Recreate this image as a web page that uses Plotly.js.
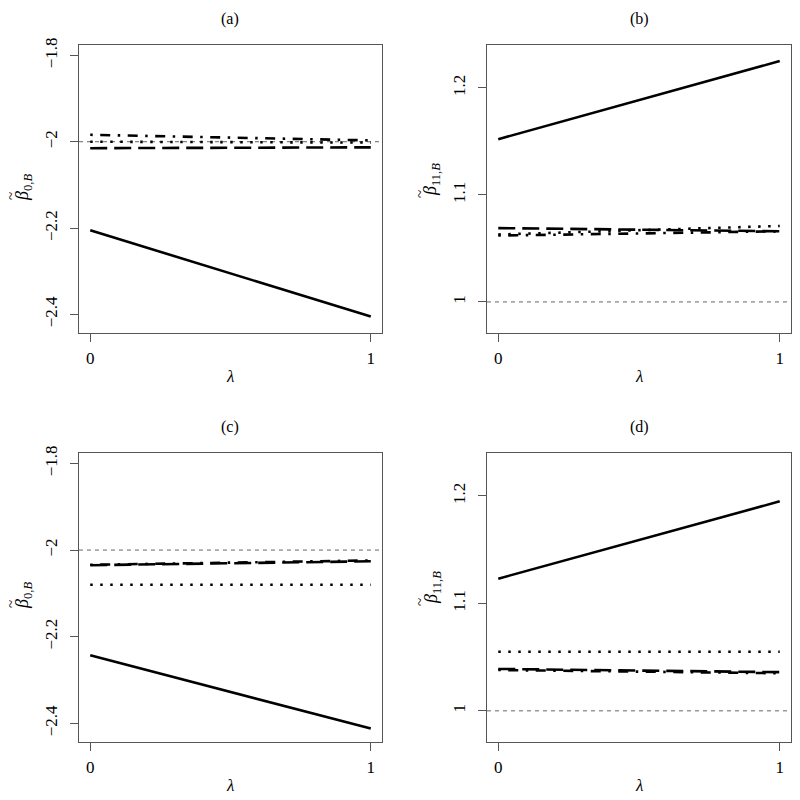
<!DOCTYPE html>
<html>
<head>
<meta charset="utf-8">
<script src="https://cdn.plot.ly/plotly-3.0.1.min.js"></script>
<style>
  html, body { margin: 0; padding: 0; background: #fff; }
  #plot { width: 800px; height: 800px; }
</style>
</head>
<body>
<div id="plot"></div>
<script>
// lambda grid and tick values
const LAMBDA = [0, 1];
const X_TICKS = [0, 1];
const B0_TICKS = [-2.4, -2.2, -2, -1.8];
const B11_TICKS = [1, 1.1, 1.2];

// panel (a): beta_0 estimates
const A_SOLID = [-2.205, -2.405];
const A_LONGDASH = [-2.015, -2.013];
const A_DOTTED = [-2.000, -2.002];
const A_DOTDASH = [-1.984, -1.997];
const A_TRUE = -2;

// panel (b): beta_11 estimates
const B_SOLID = [1.152, 1.225];
const B_LONGDASH = [1.069, 1.066];
const B_DOTTED = [1.063, 1.071];
const B_DOTDASH = [1.062, 1.066];
const B_TRUE = 1;

// panel (c): beta_0 estimates
const C_SOLID = [-2.243, -2.412];
const C_LONGDASH = [-2.035, -2.026];
const C_DOTTED = [-2.080, -2.080];
const C_DOTDASH = [-2.034, -2.024];
const C_TRUE = -2;

// panel (d): beta_11 estimates
const D_SOLID = [1.123, 1.195];
const D_LONGDASH = [1.039, 1.036];
const D_DOTTED = [1.055, 1.055];
const D_DOTDASH = [1.038, 1.035];
const D_TRUE = 1;

const PANEL_TITLES = ['(a)', '(b)', '(c)', '(d)'];
const Y_TITLE_B0 = '<i>β</i><sub>0,<i>B</i></sub>';
const Y_TITLE_B11 = '<i>β</i><sub>11,<i>B</i></sub>';
const TILDE = '~';
const X_TITLE = '<i>λ</i>';

const FONT = '"Liberation Serif", "DejaVu Serif", serif';
const BOX = '#555';

const styles = [
    { dash: 'solid', width: 2.6 },
    { dash: '17px,7px', width: 2.6 },
    { dash: '2.5px,7.5px', width: 2.6 },
    { dash: '2.5px,7.5px,10px,7.5px', width: 2.6 }
];

const panels = [
    { xa: 'x', ya: 'y', series: [A_SOLID, A_LONGDASH, A_DOTTED, A_DOTDASH], truth: A_TRUE },
    { xa: 'x2', ya: 'y2', series: [B_SOLID, B_LONGDASH, B_DOTTED, B_DOTDASH], truth: B_TRUE },
    { xa: 'x3', ya: 'y3', series: [C_SOLID, C_LONGDASH, C_DOTTED, C_DOTDASH], truth: C_TRUE },
    { xa: 'x4', ya: 'y4', series: [D_SOLID, D_LONGDASH, D_DOTTED, D_DOTDASH], truth: D_TRUE }
];

const traces = [];
const shapes = [];
panels.forEach(p => {
    p.series.forEach((vals, i) => {
        traces.push({
            x: LAMBDA,
            y: vals,
            xaxis: p.xa,
            yaxis: p.ya,
            mode: 'lines',
            type: 'scatter',
            hoverinfo: 'skip',
            line: { color: '#000', width: styles[i].width, dash: styles[i].dash }
        });
    });
    // true value reference line
    shapes.push({
        type: 'line',
        xref: p.xa + ' domain',
        yref: p.ya,
        x0: 0, x1: 1,
        y0: p.truth, y1: p.truth,
        line: { color: '#666', width: 1, dash: '4px,4px' },
        layer: 'below'
    });
});

const xAxis = (domain, anchor) => ({
    domain,
    anchor,
    range: [-0.04, 1.04],
    tickvals: X_TICKS,
    ticktext: X_TICKS.map(String),
    ticks: 'outside',
    ticklen: 8,
    tickcolor: BOX,
    showline: true,
    linecolor: BOX,
    linewidth: 1,
    mirror: true,
    showgrid: false,
    zeroline: false,
    ticklabelstandoff: 2,
    tickfont: { family: FONT, size: 17, color: '#000' }
});

const yAxis = (domain, anchor, range, ticks) => ({
    domain,
    anchor,
    range,
    tickvals: ticks,
    ticktext: ticks.map(v => (v < 0 ? '−' : '') + String(Math.abs(v))),
    tickangle: -90,
    ticks: 'outside',
    ticklen: 8,
    tickcolor: BOX,
    showline: true,
    linecolor: BOX,
    linewidth: 1,
    mirror: true,
    showgrid: false,
    zeroline: false,
    ticklabelstandoff: 6,
    tickfont: { family: FONT, size: 17, color: '#000' }
});

const XL = [79 / 800, 382 / 800];
const XR = [487 / 800, 791 / 800];
const YT = [1 - 333 / 800, 1 - 45 / 800];
const YB = [1 - 742 / 800, 1 - 453 / 800];
const RANGE_B0 = [-2.443, -1.776];
const RANGE_B11 = [0.971, 1.240];

const px = v => v / 800;
const py = v => 1 - v / 800;

const ann = (text, x, y, angle, size) => ({
    text, x, y, xref: 'paper', yref: 'paper',
    showarrow: false, textangle: angle || 0,
    xanchor: 'center', yanchor: 'middle',
    font: { family: FONT, size: size || 16, color: '#000' }
});

const annotations = [
    ann(PANEL_TITLES[0], (XL[0] + XL[1]) / 2, py(19)),
    ann(PANEL_TITLES[1], (XR[0] + XR[1]) / 2, py(19)),
    ann(PANEL_TITLES[2], (XL[0] + XL[1]) / 2, py(427)),
    ann(PANEL_TITLES[3], (XR[0] + XR[1]) / 2, py(427)),
    ann(Y_TITLE_B0, px(23), py(188), -90, 18),
    ann(Y_TITLE_B11, px(432), py(180), -90, 18),
    ann(Y_TITLE_B0, px(23), py(596), -90, 18),
    ann(Y_TITLE_B11, px(432), py(588), -90, 18),
    ann(TILDE, px(11), py(196), -90, 15),
    ann(TILDE, px(420), py(194), -90, 15),
    ann(TILDE, px(11), py(604), -90, 15),
    ann(TILDE, px(420), py(602), -90, 15),
    ann(X_TITLE, (XL[0] + XL[1]) / 2, py(377), 0, 17),
    ann(X_TITLE, (XR[0] + XR[1]) / 2, py(377), 0, 17),
    ann(X_TITLE, (XL[0] + XL[1]) / 2, py(785), 0, 17),
    ann(X_TITLE, (XR[0] + XR[1]) / 2, py(785), 0, 17)
];

const layout = {
    width: 800,
    height: 800,
    margin: { l: 0, r: 0, t: 0, b: 0 },
    paper_bgcolor: '#fff',
    plot_bgcolor: '#fff',
    showlegend: false,
    xaxis: xAxis(XL, 'y'),
    yaxis: yAxis(YT, 'x', RANGE_B0, B0_TICKS),
    xaxis2: xAxis(XR, 'y2'),
    yaxis2: yAxis(YT, 'x2', RANGE_B11, B11_TICKS),
    xaxis3: xAxis(XL, 'y3'),
    yaxis3: yAxis(YB, 'x3', RANGE_B0, B0_TICKS),
    xaxis4: xAxis(XR, 'y4'),
    yaxis4: yAxis(YB, 'x4', RANGE_B11, B11_TICKS),
    shapes,
    annotations
};

Plotly.newPlot('plot', traces, layout, { displayModeBar: false, staticPlot: true });
</script>
</body>
</html>
